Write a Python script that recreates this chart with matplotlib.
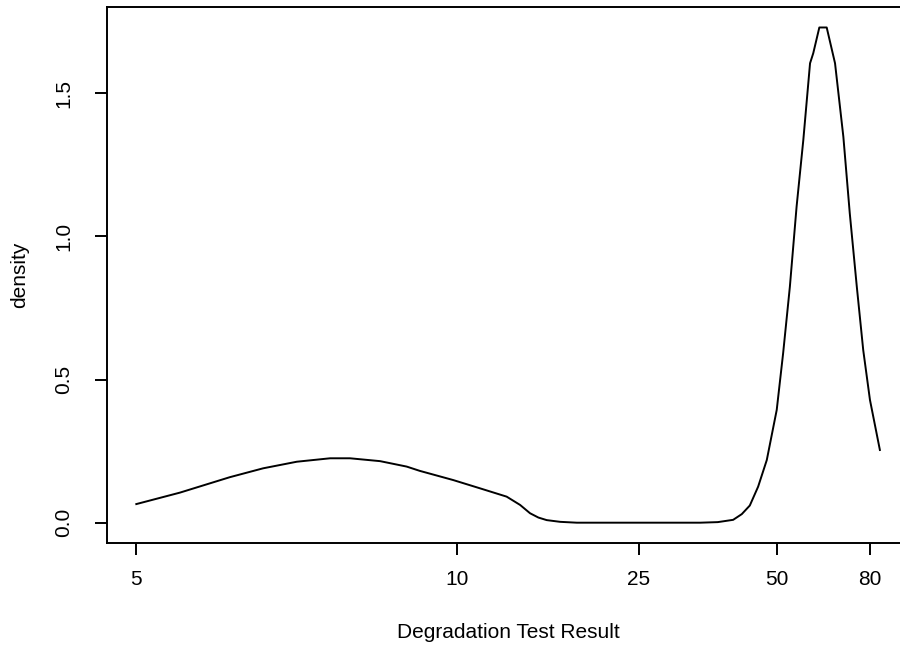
import matplotlib
matplotlib.use("Agg")
import matplotlib.pyplot as plt

plt.rcParams['font.family'] = ['Liberation Sans', 'DejaVu Sans']

# Axis position of each tick (x axis is a transformed scale) and its label
tick_pos = [0.0, 1.0, 1.568, 1.999, 2.289]
tick_labels = ["5", "10", "25", "50", "80"]

# Density curve (x in axis-position units)
xs = [0.000, 0.136, 0.292, 0.396, 0.501, 0.605, 0.667, 0.761, 0.844, 0.885,
      0.989, 1.073, 1.156, 1.198, 1.229, 1.255, 1.281, 1.323, 1.375, 1.500,
      1.760, 1.815, 1.863, 1.890, 1.915, 1.941, 1.968, 1.999, 2.019, 2.040,
      2.061, 2.082, 2.103, 2.113, 2.132, 2.155, 2.181, 2.207, 2.227, 2.249,
      2.269, 2.290, 2.321]
dens = [0.065, 0.105, 0.159, 0.190, 0.213, 0.225, 0.225, 0.215, 0.196, 0.181,
        0.149, 0.120, 0.091, 0.062, 0.033, 0.018, 0.009, 0.003, 0.000, 0.000,
        0.000, 0.002, 0.010, 0.030, 0.060, 0.126, 0.219, 0.394, 0.592, 0.824,
        1.104, 1.337, 1.605, 1.640, 1.730, 1.730, 1.605, 1.348, 1.081, 0.824,
        0.603, 0.429, 0.254]

y_ticks = [0.0, 0.5, 1.0, 1.5]
y_tick_labels = ["0.0", "0.5", "1.0", "1.5"]

W, H = 900, 648
fig = plt.figure(figsize=(9, 6.48), dpi=100)
fig.patch.set_facecolor('white')
left, right, top, bottom = 106.7, 910.0, 6.7, 542.7
ax = fig.add_axes([left / W, (H - bottom) / H, (right - left) / W, (bottom - top) / H])
ax.patch.set_facecolor('white')

ax.plot(xs, dens, color='black', lw=1.4, solid_joinstyle='round')

ax.set_xlim(-0.0924, 2.415)
ax.set_ylim(-0.0699, 1.8026)

ax.set_xticks(tick_pos)
ax.set_xticklabels(tick_labels)
ax.set_yticks(y_ticks)
ax.set_yticklabels(y_tick_labels, rotation=90, va='center')

for s in ax.spines.values():
    s.set_linewidth(1.4)
ax.spines['right'].set_visible(False)
ax.tick_params(axis='x', length=8.5, width=1.4, labelsize=15, pad=11.5)
ax.tick_params(axis='y', length=8.5, width=1.4, labelsize=15, pad=15.5)

ax.set_xlabel("Degradation Test Result", fontsize=15)
ax.xaxis.set_label_coords((508 - left) / (right - left), -(632 - bottom) / (bottom - top))
ax.xaxis.label.set_va('center')
ax.set_ylabel("density", fontsize=15)
ax.yaxis.set_label_coords(-(left - 20) / (right - left), 0.5)
ax.yaxis.label.set_va('center')

fig.savefig("out.png", dpi=100)
